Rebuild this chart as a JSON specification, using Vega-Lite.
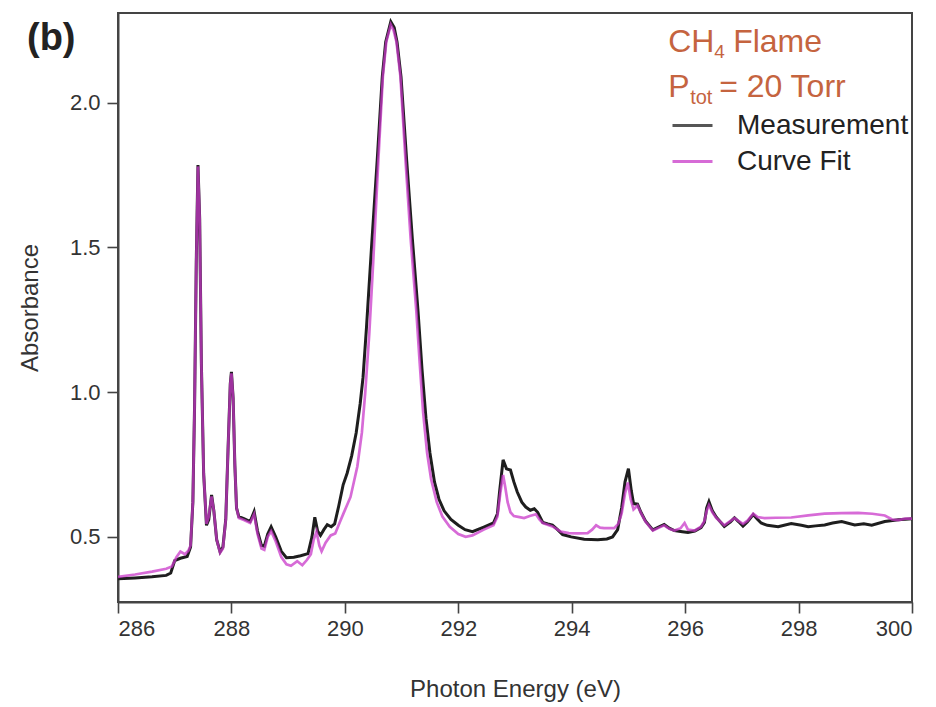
{
  "$schema": "https://vega.github.io/schema/vega-lite/v6.json",
  "autosize": "none",
  "width": 794,
  "height": 589,
  "padding": {"left": 118, "top": 13, "right": 24, "bottom": 105},
  "background": "white",
  "config": {
    "font": "Liberation Sans",
    "view": {"stroke": "#444444", "strokeWidth": 2},
    "axis": {
      "grid": false,
      "domainColor": "#444444",
      "domainWidth": 2,
      "tickColor": "#444444",
      "tickWidth": 1.6,
      "tickSize": 11,
      "labelFont": "Liberation Sans",
      "labelFontSize": 22,
      "labelColor": "#333333",
      "labelPadding": 5,
      "titleFont": "Liberation Sans",
      "titleFontSize": 24,
      "titleFontWeight": "normal",
      "titleColor": "#333333"
    },
    "legend": {
      "orient": "none",
      "legendX": 553,
      "legendY": 91,
      "padding": 0,
      "symbolType": "stroke",
      "symbolSize": 1600,
      "symbolStrokeWidth": 3,
      "labelFont": "Liberation Sans",
      "labelFontSize": 28,
      "labelColor": "#222222",
      "labelOffset": 23,
      "labelLimit": 400,
      "rowPadding": -10
    }
  },
  "datasets": {
    "spectra": [
      {"e": 286.00, "a": 0.355, "s": "Measurement"},
      {"e": 286.30, "a": 0.358, "s": "Measurement"},
      {"e": 286.60, "a": 0.362, "s": "Measurement"},
      {"e": 286.85, "a": 0.367, "s": "Measurement"},
      {"e": 286.93, "a": 0.375, "s": "Measurement"},
      {"e": 287.00, "a": 0.418, "s": "Measurement"},
      {"e": 287.10, "a": 0.426, "s": "Measurement"},
      {"e": 287.22, "a": 0.432, "s": "Measurement"},
      {"e": 287.28, "a": 0.465, "s": "Measurement"},
      {"e": 287.32, "a": 0.62, "s": "Measurement"},
      {"e": 287.35, "a": 0.95, "s": "Measurement"},
      {"e": 287.38, "a": 1.45, "s": "Measurement"},
      {"e": 287.41, "a": 1.785, "s": "Measurement"},
      {"e": 287.44, "a": 1.60, "s": "Measurement"},
      {"e": 287.47, "a": 1.10, "s": "Measurement"},
      {"e": 287.51, "a": 0.72, "s": "Measurement"},
      {"e": 287.56, "a": 0.54, "s": "Measurement"},
      {"e": 287.60, "a": 0.56, "s": "Measurement"},
      {"e": 287.65, "a": 0.645, "s": "Measurement"},
      {"e": 287.69, "a": 0.59, "s": "Measurement"},
      {"e": 287.74, "a": 0.49, "s": "Measurement"},
      {"e": 287.80, "a": 0.448, "s": "Measurement"},
      {"e": 287.85, "a": 0.465, "s": "Measurement"},
      {"e": 287.90, "a": 0.56, "s": "Measurement"},
      {"e": 287.94, "a": 0.80, "s": "Measurement"},
      {"e": 287.98, "a": 1.03, "s": "Measurement"},
      {"e": 288.00, "a": 1.07, "s": "Measurement"},
      {"e": 288.03, "a": 0.98, "s": "Measurement"},
      {"e": 288.06, "a": 0.75, "s": "Measurement"},
      {"e": 288.09, "a": 0.60, "s": "Measurement"},
      {"e": 288.13, "a": 0.57, "s": "Measurement"},
      {"e": 288.22, "a": 0.563, "s": "Measurement"},
      {"e": 288.33, "a": 0.553, "s": "Measurement"},
      {"e": 288.40, "a": 0.587, "s": "Measurement"},
      {"e": 288.46, "a": 0.52, "s": "Measurement"},
      {"e": 288.53, "a": 0.47, "s": "Measurement"},
      {"e": 288.58, "a": 0.468, "s": "Measurement"},
      {"e": 288.64, "a": 0.51, "s": "Measurement"},
      {"e": 288.70, "a": 0.535, "s": "Measurement"},
      {"e": 288.78, "a": 0.50, "s": "Measurement"},
      {"e": 288.88, "a": 0.45, "s": "Measurement"},
      {"e": 288.97, "a": 0.428, "s": "Measurement"},
      {"e": 289.10, "a": 0.430, "s": "Measurement"},
      {"e": 289.22, "a": 0.435, "s": "Measurement"},
      {"e": 289.35, "a": 0.442, "s": "Measurement"},
      {"e": 289.42, "a": 0.50, "s": "Measurement"},
      {"e": 289.47, "a": 0.568, "s": "Measurement"},
      {"e": 289.52, "a": 0.52, "s": "Measurement"},
      {"e": 289.57, "a": 0.505, "s": "Measurement"},
      {"e": 289.63, "a": 0.525, "s": "Measurement"},
      {"e": 289.69, "a": 0.542, "s": "Measurement"},
      {"e": 289.76, "a": 0.535, "s": "Measurement"},
      {"e": 289.82, "a": 0.545, "s": "Measurement"},
      {"e": 289.89, "a": 0.605, "s": "Measurement"},
      {"e": 289.97, "a": 0.68, "s": "Measurement"},
      {"e": 290.04, "a": 0.72, "s": "Measurement"},
      {"e": 290.12, "a": 0.78, "s": "Measurement"},
      {"e": 290.20, "a": 0.86, "s": "Measurement"},
      {"e": 290.27, "a": 0.96, "s": "Measurement"},
      {"e": 290.32, "a": 1.05, "s": "Measurement"},
      {"e": 290.38, "a": 1.22, "s": "Measurement"},
      {"e": 290.47, "a": 1.50, "s": "Measurement"},
      {"e": 290.57, "a": 1.80, "s": "Measurement"},
      {"e": 290.66, "a": 2.09, "s": "Measurement"},
      {"e": 290.72, "a": 2.21, "s": "Measurement"},
      {"e": 290.81, "a": 2.28, "s": "Measurement"},
      {"e": 290.87, "a": 2.26, "s": "Measurement"},
      {"e": 290.92, "a": 2.21, "s": "Measurement"},
      {"e": 290.99, "a": 2.09, "s": "Measurement"},
      {"e": 291.09, "a": 1.80, "s": "Measurement"},
      {"e": 291.19, "a": 1.53, "s": "Measurement"},
      {"e": 291.29, "a": 1.28, "s": "Measurement"},
      {"e": 291.36, "a": 1.08, "s": "Measurement"},
      {"e": 291.43, "a": 0.91, "s": "Measurement"},
      {"e": 291.50, "a": 0.79, "s": "Measurement"},
      {"e": 291.58, "a": 0.69, "s": "Measurement"},
      {"e": 291.66, "a": 0.63, "s": "Measurement"},
      {"e": 291.75, "a": 0.59, "s": "Measurement"},
      {"e": 291.87, "a": 0.56, "s": "Measurement"},
      {"e": 292.00, "a": 0.54, "s": "Measurement"},
      {"e": 292.12, "a": 0.525, "s": "Measurement"},
      {"e": 292.25, "a": 0.518, "s": "Measurement"},
      {"e": 292.45, "a": 0.534, "s": "Measurement"},
      {"e": 292.62, "a": 0.548, "s": "Measurement"},
      {"e": 292.69, "a": 0.58, "s": "Measurement"},
      {"e": 292.73, "a": 0.66, "s": "Measurement"},
      {"e": 292.79, "a": 0.766, "s": "Measurement"},
      {"e": 292.85, "a": 0.735, "s": "Measurement"},
      {"e": 292.92, "a": 0.731, "s": "Measurement"},
      {"e": 292.98, "a": 0.69, "s": "Measurement"},
      {"e": 293.04, "a": 0.655, "s": "Measurement"},
      {"e": 293.12, "a": 0.62, "s": "Measurement"},
      {"e": 293.19, "a": 0.603, "s": "Measurement"},
      {"e": 293.27, "a": 0.592, "s": "Measurement"},
      {"e": 293.34, "a": 0.597, "s": "Measurement"},
      {"e": 293.40, "a": 0.585, "s": "Measurement"},
      {"e": 293.49, "a": 0.550, "s": "Measurement"},
      {"e": 293.58, "a": 0.545, "s": "Measurement"},
      {"e": 293.66, "a": 0.541, "s": "Measurement"},
      {"e": 293.75, "a": 0.525, "s": "Measurement"},
      {"e": 293.84, "a": 0.508, "s": "Measurement"},
      {"e": 293.99, "a": 0.500, "s": "Measurement"},
      {"e": 294.22, "a": 0.492, "s": "Measurement"},
      {"e": 294.46, "a": 0.490, "s": "Measurement"},
      {"e": 294.62, "a": 0.493, "s": "Measurement"},
      {"e": 294.72, "a": 0.500, "s": "Measurement"},
      {"e": 294.81, "a": 0.525, "s": "Measurement"},
      {"e": 294.88, "a": 0.60, "s": "Measurement"},
      {"e": 294.94, "a": 0.69, "s": "Measurement"},
      {"e": 295.00, "a": 0.736, "s": "Measurement"},
      {"e": 295.05, "a": 0.66, "s": "Measurement"},
      {"e": 295.09, "a": 0.615, "s": "Measurement"},
      {"e": 295.16, "a": 0.613, "s": "Measurement"},
      {"e": 295.22, "a": 0.585, "s": "Measurement"},
      {"e": 295.30, "a": 0.555, "s": "Measurement"},
      {"e": 295.43, "a": 0.524, "s": "Measurement"},
      {"e": 295.54, "a": 0.535, "s": "Measurement"},
      {"e": 295.63, "a": 0.543, "s": "Measurement"},
      {"e": 295.72, "a": 0.530, "s": "Measurement"},
      {"e": 295.81, "a": 0.522, "s": "Measurement"},
      {"e": 295.95, "a": 0.518, "s": "Measurement"},
      {"e": 296.05, "a": 0.515, "s": "Measurement"},
      {"e": 296.17, "a": 0.520, "s": "Measurement"},
      {"e": 296.28, "a": 0.532, "s": "Measurement"},
      {"e": 296.34, "a": 0.55, "s": "Measurement"},
      {"e": 296.38, "a": 0.60, "s": "Measurement"},
      {"e": 296.42, "a": 0.622, "s": "Measurement"},
      {"e": 296.48, "a": 0.59, "s": "Measurement"},
      {"e": 296.55, "a": 0.568, "s": "Measurement"},
      {"e": 296.69, "a": 0.536, "s": "Measurement"},
      {"e": 296.80, "a": 0.552, "s": "Measurement"},
      {"e": 296.87, "a": 0.566, "s": "Measurement"},
      {"e": 296.94, "a": 0.553, "s": "Measurement"},
      {"e": 297.02, "a": 0.537, "s": "Measurement"},
      {"e": 297.10, "a": 0.552, "s": "Measurement"},
      {"e": 297.20, "a": 0.577, "s": "Measurement"},
      {"e": 297.27, "a": 0.562, "s": "Measurement"},
      {"e": 297.34, "a": 0.548, "s": "Measurement"},
      {"e": 297.45, "a": 0.540, "s": "Measurement"},
      {"e": 297.64, "a": 0.535, "s": "Measurement"},
      {"e": 297.87, "a": 0.546, "s": "Measurement"},
      {"e": 298.05, "a": 0.540, "s": "Measurement"},
      {"e": 298.17, "a": 0.535, "s": "Measurement"},
      {"e": 298.30, "a": 0.538, "s": "Measurement"},
      {"e": 298.46, "a": 0.541, "s": "Measurement"},
      {"e": 298.60, "a": 0.548, "s": "Measurement"},
      {"e": 298.76, "a": 0.553, "s": "Measurement"},
      {"e": 298.99, "a": 0.541, "s": "Measurement"},
      {"e": 299.15, "a": 0.545, "s": "Measurement"},
      {"e": 299.29, "a": 0.540, "s": "Measurement"},
      {"e": 299.52, "a": 0.553, "s": "Measurement"},
      {"e": 299.76, "a": 0.559, "s": "Measurement"},
      {"e": 300.00, "a": 0.563, "s": "Measurement"},

      {"e": 286.00, "a": 0.362, "s": "Curve Fit"},
      {"e": 286.30, "a": 0.370, "s": "Curve Fit"},
      {"e": 286.60, "a": 0.380, "s": "Curve Fit"},
      {"e": 286.85, "a": 0.390, "s": "Curve Fit"},
      {"e": 286.95, "a": 0.398, "s": "Curve Fit"},
      {"e": 287.03, "a": 0.430, "s": "Curve Fit"},
      {"e": 287.10, "a": 0.449, "s": "Curve Fit"},
      {"e": 287.18, "a": 0.440, "s": "Curve Fit"},
      {"e": 287.24, "a": 0.452, "s": "Curve Fit"},
      {"e": 287.28, "a": 0.470, "s": "Curve Fit"},
      {"e": 287.32, "a": 0.62, "s": "Curve Fit"},
      {"e": 287.35, "a": 0.95, "s": "Curve Fit"},
      {"e": 287.38, "a": 1.45, "s": "Curve Fit"},
      {"e": 287.41, "a": 1.78, "s": "Curve Fit"},
      {"e": 287.44, "a": 1.60, "s": "Curve Fit"},
      {"e": 287.47, "a": 1.10, "s": "Curve Fit"},
      {"e": 287.51, "a": 0.72, "s": "Curve Fit"},
      {"e": 287.56, "a": 0.545, "s": "Curve Fit"},
      {"e": 287.60, "a": 0.57, "s": "Curve Fit"},
      {"e": 287.65, "a": 0.64, "s": "Curve Fit"},
      {"e": 287.69, "a": 0.59, "s": "Curve Fit"},
      {"e": 287.74, "a": 0.49, "s": "Curve Fit"},
      {"e": 287.80, "a": 0.445, "s": "Curve Fit"},
      {"e": 287.85, "a": 0.46, "s": "Curve Fit"},
      {"e": 287.90, "a": 0.56, "s": "Curve Fit"},
      {"e": 287.94, "a": 0.80, "s": "Curve Fit"},
      {"e": 287.98, "a": 1.03, "s": "Curve Fit"},
      {"e": 288.00, "a": 1.065, "s": "Curve Fit"},
      {"e": 288.03, "a": 0.98, "s": "Curve Fit"},
      {"e": 288.06, "a": 0.75, "s": "Curve Fit"},
      {"e": 288.09, "a": 0.60, "s": "Curve Fit"},
      {"e": 288.13, "a": 0.565, "s": "Curve Fit"},
      {"e": 288.22, "a": 0.558, "s": "Curve Fit"},
      {"e": 288.33, "a": 0.548, "s": "Curve Fit"},
      {"e": 288.40, "a": 0.578, "s": "Curve Fit"},
      {"e": 288.46, "a": 0.51, "s": "Curve Fit"},
      {"e": 288.53, "a": 0.46, "s": "Curve Fit"},
      {"e": 288.58, "a": 0.455, "s": "Curve Fit"},
      {"e": 288.64, "a": 0.50, "s": "Curve Fit"},
      {"e": 288.70, "a": 0.52, "s": "Curve Fit"},
      {"e": 288.78, "a": 0.485, "s": "Curve Fit"},
      {"e": 288.88, "a": 0.43, "s": "Curve Fit"},
      {"e": 288.97, "a": 0.405, "s": "Curve Fit"},
      {"e": 289.05, "a": 0.400, "s": "Curve Fit"},
      {"e": 289.16, "a": 0.416, "s": "Curve Fit"},
      {"e": 289.25, "a": 0.402, "s": "Curve Fit"},
      {"e": 289.33, "a": 0.420, "s": "Curve Fit"},
      {"e": 289.40, "a": 0.440, "s": "Curve Fit"},
      {"e": 289.45, "a": 0.490, "s": "Curve Fit"},
      {"e": 289.50, "a": 0.518, "s": "Curve Fit"},
      {"e": 289.55, "a": 0.470, "s": "Curve Fit"},
      {"e": 289.59, "a": 0.450, "s": "Curve Fit"},
      {"e": 289.66, "a": 0.480, "s": "Curve Fit"},
      {"e": 289.75, "a": 0.505, "s": "Curve Fit"},
      {"e": 289.83, "a": 0.512, "s": "Curve Fit"},
      {"e": 289.92, "a": 0.555, "s": "Curve Fit"},
      {"e": 289.98, "a": 0.583, "s": "Curve Fit"},
      {"e": 290.10, "a": 0.638, "s": "Curve Fit"},
      {"e": 290.22, "a": 0.743, "s": "Curve Fit"},
      {"e": 290.30, "a": 0.86, "s": "Curve Fit"},
      {"e": 290.36, "a": 1.00, "s": "Curve Fit"},
      {"e": 290.43, "a": 1.20, "s": "Curve Fit"},
      {"e": 290.50, "a": 1.45, "s": "Curve Fit"},
      {"e": 290.59, "a": 1.80, "s": "Curve Fit"},
      {"e": 290.67, "a": 2.09, "s": "Curve Fit"},
      {"e": 290.73, "a": 2.21, "s": "Curve Fit"},
      {"e": 290.81, "a": 2.27, "s": "Curve Fit"},
      {"e": 290.86, "a": 2.25, "s": "Curve Fit"},
      {"e": 290.91, "a": 2.21, "s": "Curve Fit"},
      {"e": 290.98, "a": 2.09, "s": "Curve Fit"},
      {"e": 291.07, "a": 1.80, "s": "Curve Fit"},
      {"e": 291.16, "a": 1.53, "s": "Curve Fit"},
      {"e": 291.26, "a": 1.28, "s": "Curve Fit"},
      {"e": 291.32, "a": 1.10, "s": "Curve Fit"},
      {"e": 291.38, "a": 0.93, "s": "Curve Fit"},
      {"e": 291.45, "a": 0.79, "s": "Curve Fit"},
      {"e": 291.52, "a": 0.70, "s": "Curve Fit"},
      {"e": 291.62, "a": 0.62, "s": "Curve Fit"},
      {"e": 291.72, "a": 0.57, "s": "Curve Fit"},
      {"e": 291.85, "a": 0.535, "s": "Curve Fit"},
      {"e": 292.00, "a": 0.51, "s": "Curve Fit"},
      {"e": 292.13, "a": 0.500, "s": "Curve Fit"},
      {"e": 292.25, "a": 0.505, "s": "Curve Fit"},
      {"e": 292.45, "a": 0.525, "s": "Curve Fit"},
      {"e": 292.62, "a": 0.540, "s": "Curve Fit"},
      {"e": 292.69, "a": 0.57, "s": "Curve Fit"},
      {"e": 292.74, "a": 0.65, "s": "Curve Fit"},
      {"e": 292.79, "a": 0.714, "s": "Curve Fit"},
      {"e": 292.83, "a": 0.67, "s": "Curve Fit"},
      {"e": 292.87, "a": 0.62, "s": "Curve Fit"},
      {"e": 292.92, "a": 0.585, "s": "Curve Fit"},
      {"e": 292.98, "a": 0.572, "s": "Curve Fit"},
      {"e": 293.08, "a": 0.568, "s": "Curve Fit"},
      {"e": 293.16, "a": 0.565, "s": "Curve Fit"},
      {"e": 293.26, "a": 0.572, "s": "Curve Fit"},
      {"e": 293.37, "a": 0.578, "s": "Curve Fit"},
      {"e": 293.43, "a": 0.560, "s": "Curve Fit"},
      {"e": 293.49, "a": 0.548, "s": "Curve Fit"},
      {"e": 293.66, "a": 0.536, "s": "Curve Fit"},
      {"e": 293.81, "a": 0.518, "s": "Curve Fit"},
      {"e": 293.95, "a": 0.513, "s": "Curve Fit"},
      {"e": 294.10, "a": 0.512, "s": "Curve Fit"},
      {"e": 294.28, "a": 0.513, "s": "Curve Fit"},
      {"e": 294.36, "a": 0.525, "s": "Curve Fit"},
      {"e": 294.43, "a": 0.540, "s": "Curve Fit"},
      {"e": 294.50, "a": 0.532, "s": "Curve Fit"},
      {"e": 294.57, "a": 0.530, "s": "Curve Fit"},
      {"e": 294.75, "a": 0.530, "s": "Curve Fit"},
      {"e": 294.82, "a": 0.545, "s": "Curve Fit"},
      {"e": 294.88, "a": 0.58, "s": "Curve Fit"},
      {"e": 294.94, "a": 0.65, "s": "Curve Fit"},
      {"e": 294.99, "a": 0.688, "s": "Curve Fit"},
      {"e": 295.04, "a": 0.63, "s": "Curve Fit"},
      {"e": 295.09, "a": 0.595, "s": "Curve Fit"},
      {"e": 295.16, "a": 0.608, "s": "Curve Fit"},
      {"e": 295.22, "a": 0.583, "s": "Curve Fit"},
      {"e": 295.30, "a": 0.553, "s": "Curve Fit"},
      {"e": 295.43, "a": 0.522, "s": "Curve Fit"},
      {"e": 295.54, "a": 0.532, "s": "Curve Fit"},
      {"e": 295.63, "a": 0.540, "s": "Curve Fit"},
      {"e": 295.72, "a": 0.528, "s": "Curve Fit"},
      {"e": 295.81, "a": 0.522, "s": "Curve Fit"},
      {"e": 295.92, "a": 0.530, "s": "Curve Fit"},
      {"e": 295.99, "a": 0.548, "s": "Curve Fit"},
      {"e": 296.05, "a": 0.525, "s": "Curve Fit"},
      {"e": 296.17, "a": 0.522, "s": "Curve Fit"},
      {"e": 296.28, "a": 0.535, "s": "Curve Fit"},
      {"e": 296.34, "a": 0.555, "s": "Curve Fit"},
      {"e": 296.38, "a": 0.59, "s": "Curve Fit"},
      {"e": 296.42, "a": 0.610, "s": "Curve Fit"},
      {"e": 296.48, "a": 0.585, "s": "Curve Fit"},
      {"e": 296.55, "a": 0.565, "s": "Curve Fit"},
      {"e": 296.69, "a": 0.540, "s": "Curve Fit"},
      {"e": 296.80, "a": 0.555, "s": "Curve Fit"},
      {"e": 296.87, "a": 0.565, "s": "Curve Fit"},
      {"e": 296.94, "a": 0.555, "s": "Curve Fit"},
      {"e": 297.02, "a": 0.545, "s": "Curve Fit"},
      {"e": 297.10, "a": 0.556, "s": "Curve Fit"},
      {"e": 297.20, "a": 0.580, "s": "Curve Fit"},
      {"e": 297.28, "a": 0.568, "s": "Curve Fit"},
      {"e": 297.40, "a": 0.565, "s": "Curve Fit"},
      {"e": 297.60, "a": 0.566, "s": "Curve Fit"},
      {"e": 297.87, "a": 0.567, "s": "Curve Fit"},
      {"e": 298.17, "a": 0.574, "s": "Curve Fit"},
      {"e": 298.46, "a": 0.580, "s": "Curve Fit"},
      {"e": 298.76, "a": 0.582, "s": "Curve Fit"},
      {"e": 299.05, "a": 0.583, "s": "Curve Fit"},
      {"e": 299.30, "a": 0.580, "s": "Curve Fit"},
      {"e": 299.52, "a": 0.574, "s": "Curve Fit"},
      {"e": 299.65, "a": 0.560, "s": "Curve Fit"},
      {"e": 299.76, "a": 0.558, "s": "Curve Fit"},
      {"e": 299.88, "a": 0.563, "s": "Curve Fit"},
      {"e": 300.00, "a": 0.563, "s": "Curve Fit"}
    ],
    "labels": [
      {"panel": "(b)"}
    ]
  },
  "layer": [
    {
      "data": {"name": "spectra"},
      "transform": [{"filter": "datum.s === 'Measurement'"}],
      "mark": {"type": "line", "strokeWidth": 3, "interpolate": "linear", "clip": true},
      "encoding": {
        "x": {
          "field": "e",
          "type": "quantitative",
          "scale": {"domain": [286, 300], "nice": false, "zero": false},
          "axis": {
            "title": "Photon Energy (eV)",
            "values": [286, 288, 290, 292, 294, 296, 298, 300],
            "format": "d",
            "titlePadding": 38
          }
        },
        "y": {
          "field": "a",
          "type": "quantitative",
          "scale": {"domain": [0.275, 2.31], "nice": false, "zero": false},
          "axis": {
            "title": "Absorbance",
            "values": [0.5, 1.0, 1.5, 2.0],
            "format": ".1f",
            "labelPadding": 7,
            "titlePadding": 27
          }
        },
        "color": {
          "field": "s",
          "type": "nominal",
          "scale": {"domain": ["Measurement", "Curve Fit"], "range": ["#1e1e1e", "#c93ac9"]},
          "legend": {"title": null}
        }
      }
    },
    {
      "data": {"name": "spectra"},
      "transform": [{"filter": "datum.s === 'Curve Fit'"}],
      "mark": {"type": "line", "strokeWidth": 2.7, "opacity": 0.75, "interpolate": "linear", "clip": true},
      "encoding": {
        "x": {"field": "e", "type": "quantitative"},
        "y": {"field": "a", "type": "quantitative"},
        "color": {
          "field": "s",
          "type": "nominal",
          "scale": {"domain": ["Measurement", "Curve Fit"], "range": ["#1e1e1e", "#c93ac9"]},
          "legend": {"title": null}
        }
      }
    },
    {
      "data": {"name": "labels"},
      "mark": {"type": "text", "align": "left", "baseline": "alphabetic", "font": "Liberation Sans", "fontSize": 38, "fontWeight": "bold", "color": "#222222", "dx": -91, "dy": 37},
      "encoding": {
        "text": {"field": "panel"},
        "x": {"datum": 286, "type": "quantitative"},
        "y": {"datum": 2.31, "type": "quantitative"}
      }
    },
    {
      "data": {"name": "labels"},
      "mark": {"type": "text", "text": "CH", "align": "left", "baseline": "alphabetic", "font": "Liberation Sans", "fontSize": 32, "color": "#c5643f"},
      "encoding": {"x": {"datum": 295.70, "type": "quantitative"}, "y": {"datum": 2.176, "type": "quantitative"}}
    },
    {
      "data": {"name": "labels"},
      "mark": {"type": "text", "text": "4", "align": "left", "baseline": "alphabetic", "font": "Liberation Sans", "fontSize": 19, "color": "#c5643f", "dx": 46, "dy": 6},
      "encoding": {"x": {"datum": 295.70, "type": "quantitative"}, "y": {"datum": 2.176, "type": "quantitative"}}
    },
    {
      "data": {"name": "labels"},
      "mark": {"type": "text", "text": "Flame", "align": "left", "baseline": "alphabetic", "font": "Liberation Sans", "fontSize": 32, "color": "#c5643f", "dx": 65},
      "encoding": {"x": {"datum": 295.70, "type": "quantitative"}, "y": {"datum": 2.176, "type": "quantitative"}}
    },
    {
      "data": {"name": "labels"},
      "mark": {"type": "text", "text": "P", "align": "left", "baseline": "alphabetic", "font": "Liberation Sans", "fontSize": 32, "color": "#c5643f"},
      "encoding": {"x": {"datum": 295.70, "type": "quantitative"}, "y": {"datum": 2.02, "type": "quantitative"}}
    },
    {
      "data": {"name": "labels"},
      "mark": {"type": "text", "text": "tot", "align": "left", "baseline": "alphabetic", "font": "Liberation Sans", "fontSize": 20, "color": "#c5643f", "dx": 22, "dy": 7},
      "encoding": {"x": {"datum": 295.70, "type": "quantitative"}, "y": {"datum": 2.02, "type": "quantitative"}}
    },
    {
      "data": {"name": "labels"},
      "mark": {"type": "text", "text": "= 20 Torr", "align": "left", "baseline": "alphabetic", "font": "Liberation Sans", "fontSize": 32, "color": "#c5643f", "dx": 51},
      "encoding": {"x": {"datum": 295.70, "type": "quantitative"}, "y": {"datum": 2.02, "type": "quantitative"}}
    }
  ]
}
